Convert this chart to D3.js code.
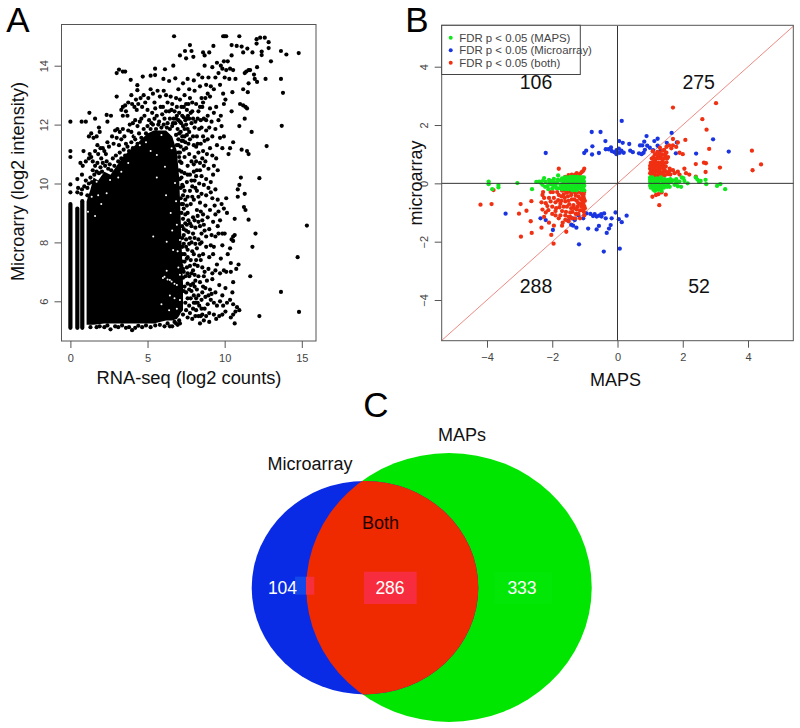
<!DOCTYPE html>
<html><head><meta charset="utf-8">
<script src="https://cdn.jsdelivr.net/npm/d3@7/dist/d3.min.js"></script>
<style>html,body{margin:0;padding:0;background:#fff}svg{display:block}text{font-family:"Liberation Sans",Arial,sans-serif}</style>
</head><body><svg id="c" width="800" height="728"></svg>
<script>
// Panel A: saturated (overplotted) black core, envelope
const aCoreX  =[1.05,1.3,1.5,1.8,2.2,2.6,3,3.4,3.8,4.2,4.6,5,5.4,5.8,6.2,6.6,6.9,7.05,7.15,7.3];
const aCoreTop=[9.4,9.8,10.2,10.1,10.4,10.3,10.6,10.9,11.1,11.3,11.5,11.7,11.8,11.8,11.8,11.6,11.1,10.2,8.8,6.6];
const aCoreLow=[5.2,5.2,5.2,5.22,5.25,5.25,5.25,5.25,5.25,5.25,5.25,5.25,5.25,5.3,5.35,5.35,5.4,5.5,5.6,5.7];
// saturated vertical strips at the lowest count values [x, low, high]
const aStrips=[[0,5.1,9.3],[0.45,5.1,9.15],[0.77,5.1,9.4]];
// small unfilled gaps visible inside the saturated core
const aGaps=[[1.14,10.36],[1.7,10.06],[2.35,9.67],[4.19,11.65],[4.5,11.3],[5.9,11.65],[6.56,11.2],[5.6,10.97],[6.78,10.02],[1.38,9.55],[1.8,9.6],[1.14,9.04],[2.57,10.12],[3.3,10.4],[3.75,10.7],[5.6,10.2],[6.13,10.57],[4.9,11.4],[5.2,11.1],[3.1,10.2],[2,9.3],[1.6,8.9],
[6.24,7.04],[6,6.79],[6.1,6.83],[6.3,6.74],[6.45,6.72],[6.56,6.67],[6.75,6.6],[6.9,6.55],[7.1,6.9],[7,7.15],[6.45,6.2],[6.75,6.1],[7.1,6.04],[6.24,8.02],[5.37,8.2],[6.66,7.74],[7.1,8.08],[6.9,8.6],[6.5,9],[6.85,9.4],[6.2,9.6],[6.95,7.7],[5.9,5.9],[6.4,5.7],[6.9,5.75],[6.6,8.4]];
const aSparse=[[0,12.1],[0,11.1],[0,10.9],[0,9.97],[0,9.7],[.73,12.1],[1,12.1],[1.23,12.4],[1.6,12.2],[2.35,12.33],[2.63,12.3],[2.4,12.1],
[6.72,15],[9.9,15],[10,15],[10.1,15],[10.95,15],[12.07,14.9],[12.3,14.95],[12.6,14.95],[12.85,14.8],[12.85,14.6],[12.07,14.75],[7.75,14.7],[7.85,14.5],[7.43,14.5],[7.1,14.35],[7.97,14.3],[7.5,14.25],[8.6,14.45],[8.7,14.35],[9,14.45],[9.27,14.67],[10.45,14.7],[10.78,14.67],[11.1,14.65],[11.47,14.58],[11.8,14.45],[11.2,14.45],[12.4,14.48],[12.4,14.36],[13.65,14.5],[14,14.38],[14.8,14.43],[13,14.15],[13.65,13.55],[13.78,13.08],[13.7,11.96],[12.72,11.27],[12.25,10.18],[15.33,8.57],[14.73,7.5],[13.65,6.32],[14.82,5.64],[12.25,5.5],[12,8.3],[11.8,7.85],[11.66,6.85],[11.55,8.77]];
const aUpper=[[1.2,11.6],[1.35,11.7],[1.5,11.55],[1.7,11.6],[1.75,11.3],[1.85,11.9],[1.9,11.75],[1.6,11.1],[1.8,11],[1.95,11.2],[2,10.85],[2.2,11.1],[1.25,11],[1.35,10.9],[1.45,10.75],[1.2,10.85],[.85,11.1],[.65,10.7],[.8,10.6],[1,10.75],[.45,10.15],[.75,10.3],[.5,9.85],[.75,9.8],[.9,9.9],[.45,9.7],[.7,9.65],[1,10.1],[2.3,11],
[2.1,11.2],[2.4,11.4],[2.7,11.6],[2.5,11.25],[2.9,11.8],[3.05,11.85],[3.2,11.75],[3.4,11.85],[3.5,11.6],[2.8,11.35],[3,11.55],[3.15,11.3],[3.3,11.5],[3.6,11.35],[3.75,11.8],[3.85,12],[3.95,11.75],[4.05,12.05],[4.2,12.15],[4.35,11.95],[4.5,12.1],[4.1,11.6],[3,12.95],[3,13.75],[3.15,13.87],[3.4,13.8],[3.55,13.8],[3.91,13.52],[4.69,13.63],[5.2,13.66],[5.49,13.9],[6.13,13.88],[6.67,14],[6.03,13.55],[6.4,13.48],[6.8,13.57],[5.49,13.68],[4.34,13.34],[4.34,13.17],
[3.4,12.3],[3.3,12.5],[3.55,12.65],[3.75,12.75],[3.4,12.6],[3.6,12.45],[3.7,12.3],[3.95,13],[4,12.7],[4.15,12.6],[4.25,12.85],[4.3,12.5],[4.4,12.7],[4.55,12.9],[4.65,12.6],[4.75,13],[4.85,12.75],[5,12.5],[5.05,12.9],[5.2,13.2],[5.35,13.05],[5.45,12.75],[5.3,12.4],[5.5,12.55],[5.65,13.15],[5.8,12.95],[5.85,12.6],[5.95,12.35],[6.05,13.15],[6.2,13],[6.3,12.75],[6.4,12.45],[6.5,12.95],[6.6,12.7],[6.7,12.2],[6.85,12.9],[6.9,12.6],[7,13.2],[7.1,12.85],[7.2,12.6],[7.3,13.4],[7.4,13],[7.5,12.7],[7.55,12.2],[7.6,13.55],[7.7,13.2],[7.75,12.9],[7.8,12.4],[7.9,12.75],[8,13.5],[8.05,13.15],[8.15,12.7],[8.25,12.2],[8.3,13.7],[8.4,13.3],[8.5,12.9],
[4.6,12.2],[4.8,12.3],[5.1,12.15],[5.25,12.05],[5.45,12.2],[5.6,12.3],[5.75,12.1],[6,12.6],[6.1,12.2],[6.2,12.45],[6.3,12.05],[6.45,12.2],[6.55,12.5],[6.6,11.95],[6.75,12.45],[6.8,12.05],[6.9,12.3],[6.95,11.85],[7.05,12.4],[7.1,12.1],[7.15,11.75],[7.25,12.3],[7.3,11.95],[7.35,12.6],[7.4,11.6],[7.45,12.15],[7.55,12.5],[7.6,11.85],[7.65,12.7],[7.7,12.2],[7.75,11.5],[7.85,12.05],[7.9,12.45],[7,11.5],[7.15,11.25],[7.3,11.45],[7.5,11.2],[6.9,11.3],[7.05,10.9],[7.2,10.7],[7.4,10.9],[7.6,10.6],[7.7,11],[7.85,10.75],[8,11.3],
[6.65,12.05],[6.85,12.2],[7,12.15],[7.18,12.05],[7.35,12.25],[7.5,12],[7.62,12.3],[7.4,11.85],[7.55,11.65],[7.25,11.6],[7.05,11.7],[6.85,11.65],[7.7,11.75],[7.45,11.4],[7.2,11.45],[7,11.3],[7.65,11.35],[7.35,11.15],[7.1,11.05]];
const aRight=[[8.55,13.6],[8.7,14],[8.8,13.35],[8.9,13.05],[8.95,13.6],[9.05,12.95],[9.1,13.3],[9.2,13.95],[9.3,13.2],[9.4,13.6],[9.5,14.1],[9.6,13.75],[9.7,13.35],[9.75,14],[9.85,13.9],[9.95,14.15],[10,13.6],[10.1,13.85],[10.2,14.15],[10.3,13.55],[10.35,13.9],[10.45,14.35],[10.5,13.1],[10.55,13.85],[10.7,13.55],[9.9,13.05],[9.95,12.7],[10.05,12.85],[10.45,12.45],[11,12.7],[11.2,12.65],[11.35,12.6],[11.45,12.55],[11.2,13.2],[11.5,13.1],[11.55,13.4],[11.65,13.85],[11.3,13.75],[11.4,13.8],[11.55,13.85],[11.9,13.7],[12.1,13.95],[11.95,13.55],[12.1,13.45],[12.65,13.55],[11.3,12.2],[10.95,11.95],[11.75,11.75],[11.1,11.15],[11.45,11.1],[11.55,11],[10.55,11.4],[10.35,11.2],[10.25,11],[11.05,10.2],[10.95,9.95],[10.85,9.8],[10.85,9.55],[11.3,9.65],[11.25,9.2],[11.35,9.1],[10.65,8.8],[10.55,8.2],[10.45,8.1],[10.65,8.25],[10.9,7.25],[10.75,7.1],[10.4,7.3],[10.55,6.65],[10.4,7],[10.2,7.6],[10.35,7.8],[10.55,8.05],[10,8.3],[9.85,7.9],[9.6,8.3],[9.4,8.2],[9.3,7.85],[9.5,7.25],[9.25,7.6],[9.1,7.9],
[8.55,12.6],[8.65,12.2],[8.75,12.9],[8.8,11.8],[8.9,12.3],[9,11.9],[9.05,12.55],[9.15,12.1],[9.2,11.6],[9.3,12.4],[9.4,11.85],[9.45,12.6],[9.5,11.3],[9.6,12.15],[9.7,11.55],[9.75,12.3],[9.8,11.95],[9.85,11.2],[9.95,11.6],[8.1,12.1],[8.2,11.6],[8.35,11.85],[8.45,11.35],[8.5,11.9],[8.6,11.1],[8.7,11.45],[8.85,11],[8.9,11.5],[9.05,11.2],[9.2,10.95],[9.3,10.6],[9.45,10.85],[9.55,10.45],[8.05,10.9],[8.2,10.45],[8.3,11.05],[8.4,10.7],[8.5,10.25],[8.65,10.6],[8.8,10.15],[8.95,10.5],[9.1,10.05],[9.25,10.3],[9.4,9.8],[9.55,9.45],[9.6,9.05],[9.8,9.3],[9.95,9.15],[10.1,9.5],[10.15,9],[9.35,9.25],[9.2,9.5],[9.1,9.7],[8.95,9.85],[8.8,9.6],[8.65,9.95],[8.5,9.65],[8.35,10],[8.2,9.75],[8.05,10.1],[7.9,9.9],[7.75,10.3],[7.55,10.05],[7.4,9.75],[7.6,9.55],[7.8,9.3],[8,9.45],[8.2,9.1],[8.4,9.35],[8.6,8.95],[8.75,9.25],[8.9,8.85],[9.05,9.1],[9.25,8.7],[9.4,8.95],[9.55,8.55],[9.7,8.75],[9.85,8.3],[7.3,9.3],[7.45,8.95],[7.6,9],[7.75,8.65],[7.95,8.85],[8.1,8.5],[8.3,8.7],[8.5,8.3],[8.65,8.6],[8.8,8.2],[9,8.45],[9.15,8.25],[7.35,8.45],[7.5,8.1],[7.65,8.35],[7.85,8],[8.05,8.15],[8.2,7.8],[8.4,7.95],[8.6,7.6],[8.8,7.85],[9,7.5],[7.25,7.85],[7.4,7.6],[7.6,7.75],[7.8,7.4],[8,7.6],[8.25,7.2],[8.45,7.4],[8.7,7],[8.95,7.1],[9.2,6.95],[9.4,7.05],[9.7,6.95],[9.75,7.45],[9.95,7.05],[10.1,7],[7.2,7.2],[7.35,7],[7.55,7.15],[7.7,6.85],[7.95,7.05],[8.1,6.7],[8.3,6.85],[8.6,6.5],[8.85,6.7],[9.05,6.4],[9.2,6.75],[9.4,6.3],[9.65,6.55],[9.85,6.2],[10.05,6.45],[10.5,6.3],[10.35,6.05],[10.55,5.9],[7.4,6.5],[7.6,6.6],[7.85,6.35],[8.05,6.5],[8.3,6.2],[8.5,6.05],[8.75,6.15],[8.9,5.9],[9.1,6.05],[9.3,5.95],[9.5,5.85],[9.7,6],[9.9,5.85],[10.15,5.95],[10.05,5.65],[10.4,5.45],[10.55,5.55],[10.65,5.25],[10.8,5.8],[10.95,5.7],[10.7,5.65],[8,5.95],[8.15,5.7],[8.35,5.85],[8.55,5.55],[8.8,5.5],[9,5.6],[9.3,5.55],[9.45,5.4],[9.65,5.5],[9.85,5.55],[8.4,5.25],[9,5.3],[7.1,5.25],[7.9,5.4],[7.6,5.45],[6.6,5.15],[6.1,5.15],[5.2,5.12],[4.2,5.1],[4,5.02],[2.6,5.05],[3.6,5.1],[1.7,5.12],[7.3,9.9],[7.15,9.5],[7.4,10.35],[7.2,10.2]];
// dots that roughen the edge of the saturated core
const aEdge=[[1.1,9.6],[1.1,9.85],[1.2,10],[1.3,10.2],[1.4,10.05],[1.45,10.45],[1.55,10.3],[1.6,10.6],[1.7,10.4],[1.75,10.7],[1.85,10.35],[1.95,10.55],[2.05,10.4],[2.1,10.7],[2.25,10.6],[2.35,10.75],[2.45,10.5],[2.55,10.65],[2.65,10.45],[2.75,10.85],[2.85,10.6],[2.95,10.95],[3.1,10.75],[3.2,11.05],[3.3,10.85],[3.45,11.15],[3.55,10.95],[3.7,11.25],[3.8,11.1],[3.95,11.4],[4.05,11.2],[4.2,11.5],[4.35,11.35],[4.45,11.7],[4.6,11.55],[4.75,11.85],[4.9,11.7],[5,11.95],[5.2,11.85],[5.35,12],[5.55,11.85],[5.7,12],[5.9,11.9],[6.05,12],[6.25,11.9],[6.45,11.85],
[7,11.05],[7.1,10.75],[7.05,10.45],[7.2,10.4],[7.1,10.15],[7.25,9.95],[7.15,9.85],[7.3,9.6],[7.2,9.3],[7.35,9.15],[7.2,9],[7.3,8.8],[7.45,8.65],[7.25,8.55],[7.35,8.25],[7.5,8.4],[7.25,8.15],[7.35,7.95],[7.5,7.85],[7.25,7.6],[7.4,7.35],[7.55,7.45],[7.25,7.35],[7.3,7.1],[7.45,6.85],[7.6,6.95],[7.3,6.8],[7.5,6.3],[7.7,6.4],[7.35,6.35],[7.6,6.1],[7.8,6.1],[7.45,5.95],[7.7,5.85],[7.95,5.75],[8.1,5.95],[7.5,5.7],[7.75,5.6],[7.3,5.55],[7.05,5.35],[6.85,5.25],
[7.75,9.75],[7.55,9.25],[7.9,9.55],[7.65,8.75],[7.85,8.55],[7.55,8.6],[7.75,8.15],[7.95,8.3],[7.7,7.95],[7.6,7.5],[7.9,7.7],[7.75,7.2],[8.05,7.25],[7.85,6.95],[8.05,6.9],[7.95,6.6],[7.8,6.55],[8.2,6.4],[8.15,6.1],[8,6.2],[8.25,5.95],[8.1,5.5],[8.3,5.5],[8.5,5.75],[8.7,5.75],[7.45,9.45],[7.6,10.3],[7.85,10.1],[8,10.4],[8.1,9.85],[8.15,10.25],[8.3,9.55],[8.45,9.05],[8.25,8.9],[8.05,8.75],[8.4,8.55],[8.55,8.75],[8.7,8.4],[8.3,8.1],[8.5,8],[8.1,7.95],[8.35,7.55],[8.15,7.4],[8.55,7.15],[8.4,6.65],[8.65,6.85],[8.55,6.3],[8.75,6.45],[8.95,6.2],[9.15,6.25],[8.45,5.5],[8.65,5.35],
[1.3,5.12],[1.9,5.15],[2.2,5.12],[2.4,5.18],[2.9,5.15],[3.1,5.12],[3.35,5.18],[3.8,5.12],[4.4,5.17],[4.65,5.12],[4.9,5.18],[5.5,5.18],[5.8,5.2],[6.3,5.25],[6.45,5.15],[6.75,5.3],[6.95,5.2],
[7.95,12.2],[8.05,11.9],[7.95,11.6],[8.15,11.25],[8.3,12.45],[8.45,12.15],[8.6,12.75],[8.4,12.6],[8.6,11.6],[8.8,12.15],[8.25,11.35],[8.55,10.85],[8.75,10.75],[8.4,10.45],[8,10.65],[8.15,10.75]];
const aTicksX=[0,5,10,15], aTicksY=[6,8,10,12,14];

// Panel B: values read per point
const bTicks=[-4,-2,0,2,4];
const bGreen=[[-3.95,.06],[-3.95,-.03],[-3.84,-.2],[-3.65,-.06],[-3.65,-.14],[-3.07,.01],[-2.62,-.2],[-2.49,.05],[-2.4,.06],[-2.25,.18],[-2.3,-.05],[-2.2,.05],[-2.15,-.1],[-2.1,.12],[-2.05,-.03],[-2,.08],[-2,-.18],[-1.95,.15],[-1.9,-.08],[-1.85,.02],[-1.82,.27],[-1.8,-.17],[-1.75,.1],[-1.75,-.05],[-1.7,.17],[-1.7,-.2],[-1.65,.02],[-1.6,.12],[-1.6,-.12],[-1.55,.2],[-1.55,-.03],[-1.5,-.2],[-1.5,.08],[-1.45,.22],[-1.45,-.1],[-1.4,.03],[-1.4,-.22],[-1.35,.14],[-1.35,-.05],[-1.3,.22],[-1.3,-.15],[-1.25,.05],[-1.25,-.24],[-1.2,.15],[-1.2,-.05],[-1.15,.2],[-1.15,-.17],[-1.1,.05],[-1.1,-.08],[-1.1,-.23],[-1.05,.12],[-1.05,-.02],[-1.05,-.15],[-1.03,.2],[-1.02,-.24],[-1.58,-.2],[-1.38,-.24],[-1.62,.2],
[-2.35,.02],[-2.28,.1],[-2.22,-.12],[-2.12,-.2],[-2.08,.02],[-1.97,-.08],[-1.92,.03],[-1.88,-.16],[-1.83,.12],[-1.72,-.12],[-1.68,.08],[-1.66,-.06],[-1.63,-.18],[-1.57,.1],[-1.52,.15],[-1.52,-.1],[-1.47,.02],[-1.43,.12],[-1.42,-.15],[-1.37,.22],[-1.33,-.22],[-1.32,.06],[-1.27,.14],[-1.27,-.08],[-1.23,-.16],[-1.22,.22],[-1.17,.08],[-1.17,-.1],[-1.13,-.02],[-1.12,.14],[-1.08,.2],[-1.07,-.18],[-1.03,.06],[-1.02,-.08],
[1,.2],[1.05,.08],[1.05,-.05],[1.1,.14],[1.1,-.15],[1.15,.02],[1.2,.17],[1.2,-.1],[1.25,-.22],[1.25,.07],[1.3,.16],[1.3,-.04],[1.35,.1],[1.35,-.15],[1.4,.02],[1.45,.14],[1.45,-.1],[1.5,.05],[1.55,-.05],[1.55,.12],[1.6,-.12],[1.65,.05],[1.7,.1],[1.75,-.05],[1.8,.03],[1.8,.14],[1.85,-.1],[1.9,.06],[1.95,-.12],[1.97,.2],[2.02,.18],[2.05,.08],[2.15,0],[2.4,.2],[2.45,.13],[2.5,.05],[2.55,.08],[2.72,-.03],[3.05,-.09],[3.15,-.03],[3.3,-.2],[2.7,.12],[1.1,-.22],[1,-.08],
[1,.05],[1.02,-.15],[1.07,.2],[1.12,-.05],[1.15,.1],[1.17,-.17],[1.22,.03],[1.27,-.1],[1.33,.2],[1.37,-.03],[1.42,.1],[1.42,-.15],[1.47,.03],[1.52,-.12],[1.58,.03],[1.62,.14],[1.15,-.26],[1.35,-.26],[1.05,.15],[1,.13]];
const bBlue=[[.13,2.14],[-.79,1.76],[-.52,1.76],[-.37,1.45],[-.77,1.27],[.05,1.45],[.16,1.39],[.36,1.35],[-2.2,1.04],[-1.02,1.04],[-.96,1.12],[-.78,.99],[-.57,1.04],[-.36,1.17],[-.28,1.17],[-.2,1.23],[-.18,1.11],[-.1,1.07],[-.03,1.14],[.04,1.19],[-.03,1],[.07,1.05],[.12,1.12],[.19,1.05],[.39,1.12],[.47,1.07],[.69,1.3],[.76,1.3],[.89,1.62],[.82,1.43],[.66,1.03],[.74,1],[.8,1.05],[.84,1.15],[.91,1.29],[.99,1.22],[1.09,1.14],[1.13,1.45],[1.23,1.53],[1.23,1.29],[1.32,1.12],[1.51,1.39],[1.66,1.73],[1.82,1.4],[1.79,1.03],[2.41,1.02],[2.93,1.51],[3.41,1.09],
[-3.43,-1.04],[-2.36,-1.2],[-2.2,-1.26],[-1.98,-1.6],[-1.51,-1.28],[-1.38,-1.2],[-1.31,-1.26],[-1.36,-1.45],[-1.26,-1.52],[-1.18,-2.09],[-1.05,-1.2],[-.95,-1.03],[-.83,-1.05],[-.75,-1.12],[-.64,-1.14],[-.57,-1.11],[-.49,-1.14],[-.41,-1.03],[-.36,-1.2],[-.18,-1.2],[-.06,-1],[.04,-1.23],[.13,-1.33],[.28,-1.11],[-.9,-1.55],[-.64,-1.58],[-.57,-1.46],[-.21,-1.43],[-.26,-1.55],[-.33,-1.7],[-.42,-2.34],[.07,-2.24],[-1.42,-1.42],[-1.2,-1.1],[-.7,-1.06],[-.5,-1.06]];
const bRed=[[1.7,2.6],[3.02,2.75],[2.6,2.2],[2.73,1.84],[1.7,1.52],[2.08,1.49],[2.81,1.18],[4.12,1.12],[4.4,.65],[4.14,.45],[3.14,.54],[2.65,.71],[2.71,.69],[2.4,.66],[2.7,.39],[2.4,.23],[1.28,-.75],[1.07,-.46],[1.25,-.37],[1.35,-.31],[1.48,-.39],[1.18,-.4],[1.7,1.3],[1.8,1.25],[1.85,1.4],[1.65,1.2],[1.9,1.05],[2,1],[1.6,.5],[1.7,.45],[1.75,.35],[1.85,.4],[2.05,.5],[2.1,.35],[2.2,.3],[1.9,.3],[1.55,.9],[1.5,1.25],[1.48,1.05],[1.43,.85],[1.38,1.12],[1.32,.95],[1.28,1.05],[1.2,.85],[1.22,1.08],[1.15,1],[1.08,1.1],[1.12,.75],[1.05,.85],[1.02,.7],[1.07,.6],[1.15,.55],[1.25,.7],[1.33,.7],[1.4,.6],[1.45,.45],[1.5,.72],[1.3,.5],[1.2,.42],[1.1,.35],[1,.5],[1,.35],[1.05,.27],[1.15,.28],[1.25,.3],[1.35,.3],[1.45,.28],[1.55,.32],[1.62,.3],[1.2,.62],[1.35,.85],[1.1,.48],[1.03,.42],[1.28,.42],[1.4,.38],
[1,.6],[1.04,.52],[1.08,.72],[1.1,.9],[1.12,.62],[1.16,.82],[1.18,.48],[1.18,.7],[1.22,.95],[1.24,.55],[1.27,.85],[1.3,.62],[1.32,.38],[1.35,.55],[1.37,.98],[1.38,.75],[1.42,.48],[1.42,.68],[1.46,.95],[1.48,.58],[1.52,.38],[1.52,.85],[1.5,1.05],[1.43,1.15],[1.3,1.22],[1.58,1.3],[1.6,.42],[1.13,.38],[1.24,.38],[1.35,.22],[1.2,.22],[1.07,.22],
[-4.2,-.73],[-3.86,-.71],[-3.8,-.23],[-2.97,-.71],[-2.64,-.61],[-3.02,-1.04],[-2.79,-.94],[-2.66,-1.3],[-2.96,-1.83],[-2.63,-1.7],[-2.33,-1.52],[-2.03,-1.77],[-1.96,-2.07],[-1.57,-1.66],[-1.8,.5],[-2.33,-.65],[-2.3,-.4],[-2.3,-.9],[-2.2,-1],[-2.25,-1.15],[-2.15,-.78],[-2.1,-1.35],[-2.1,-.5],[-2,-1.05],[-1.98,-.3],[-1.95,-1.45],[-1.9,-.65],[-1.88,-.85],[-1.8,-.4],[-1.8,-1.2],[-1.75,-.7],[-1.7,-.25],[-1.7,-.95],[-1.68,-1.35],[-1.62,-.5],[-1.6,-1.1],[-1.55,-.8],[-1.55,-.32],[-1.5,-1.3],[-1.5,-.6],[-1.45,-1],[-1.42,-.4],[-1.4,-1.2],[-1.35,-.75],[-1.32,-.55],[-1.3,-.32],[-1.28,-1.05],[-1.25,-.9],[-1.2,-.45],[-1.2,-.68],[-1.15,-1.2],[-1.12,-.32],[-1.1,-.55],[-1.1,-.8],[-1.05,-.45],[-1.05,-.7],[-1.03,-.98],[-1.02,-.3],[-1,-.6],[-1,-.85],[-1.02,-1.1],[-1.6,-.62],[-1.72,-.45],[-1.85,-.3],[-2.05,-.62],[-1.42,-.85],[-1.3,-1.2],[-1.75,-1.1],[-1.9,-1.1],[-2,-.8],[-1.58,-.98],[-1.48,-.28],[-1.15,-.93],
[-2.28,-.3],[-2.25,-.5],[-2.2,-.68],[-2.12,-.92],[-2.05,-.3],[-1.95,-.5],[-1.9,-.95],[-1.82,-.58],[-1.78,-.82],[-1.72,-.6],[-1.65,-.38],[-1.65,-.8],[-1.6,-1.25],[-1.52,-.45],[-1.48,-.72],[-1.45,-1.15],[-1.4,-.55],[-1.38,-.98],[-1.32,-.85],[-1.28,-.42],[-1.25,-.6],[-1.22,-.8],[-1.2,-1.05],[-1.15,-.52],[-1.13,-.72],[-1.08,-.38],[-1.08,-.65],[-1.07,-.92],[-1.03,-.52],[-1.02,-.78],[-1.58,-.27],[-1.4,-.3],[-1.22,-.3],[-1.04,-.38],[-1.7,-1.45],[-1.5,-1.15],
[-1.5,.28],[-1.4,.3],[-1.3,.3],[-1.25,.35],[-1.15,.32],[-1.1,.38],[-1.05,.43],[-1.02,.5],[-1.2,.25],[-1.6,.22]];
// Panel C: set counts
const vennLabels=["Microarray","MAPs","Both"];
const vennCounts=[104,286,333];

const svg=d3.select("#c");
const black="#000", tick="#444";
function frame(g,x,y,xt,yt,x0,y0,x1,y1,xf){
  g.append("rect").attr("x",x0).attr("y",y1).attr("width",x1-x0).attr("height",y0-y1).attr("fill","none").attr("stroke","#555").attr("stroke-width",1);
  const ax=g.append("g").attr("transform",`translate(0,${y0})`).call(d3.axisBottom(x).tickValues(xt).tickSize(7).tickPadding(6).tickFormat(xf));
  const ay=g.append("g").attr("transform",`translate(${x0},0)`).call(d3.axisLeft(y).tickValues(yt).tickSize(7).tickPadding(0).tickFormat(xf));
  [ax,ay].forEach(a=>{a.select(".domain").remove();a.selectAll("line").attr("stroke","#555");a.selectAll("text").attr("fill",tick).style("font-size","11px").style("font-family",'"Liberation Sans",sans-serif');});
  ay.selectAll("text").attr("dy",0).attr("x",0).attr("y",0).attr("text-anchor","middle")
    .attr("transform",function(){return "translate(-14,0) rotate(-90)";});
}
function label(t,x,y,size,o={}){
  const e=svg.append("text").attr("x",x).attr("y",y).attr("font-size",size).attr("fill",o.fill||"#111").attr("text-anchor",o.anchor||"middle").text(t);
  if(o.rot)e.attr("transform",`rotate(${o.rot} ${x} ${y})`);
  return e;
}
// ---------- A
const xA=d3.scaleLinear().domain([0,15]).range([70.4,301.8]);
const yA=d3.scaleLinear().domain([6,14]).range([301.3,65.7]);
const gA=svg.append("g");
gA.selectAll("line.s").data(aStrips).join("line").attr("x1",d=>xA(d[0])).attr("x2",d=>xA(d[0])).attr("y1",d=>yA(d[1])).attr("y2",d=>yA(d[2])).attr("stroke",black).attr("stroke-width",4.2).attr("stroke-linecap","round");
const areaA=d3.area().x(d=>xA(d.x)).y0(d=>yA(d.l)).y1(d=>yA(d.t));
gA.append("path").datum(aCoreX.map((x,i)=>({x,t:aCoreTop[i],l:aCoreLow[i]}))).attr("fill",black).attr("d",areaA);
gA.append("g").selectAll("circle").data(aSparse.concat(aUpper,aRight,aEdge)).join("circle").attr("cx",d=>xA(d[0])).attr("cy",d=>yA(d[1])).attr("r",2.1).attr("fill",black);
gA.append("g").selectAll("circle").data(aGaps).join("circle").attr("cx",d=>xA(d[0])).attr("cy",d=>yA(d[1])).attr("r",1).attr("fill","#fff");
frame(gA,xA,yA,aTicksX,aTicksY,61.5,341,316,24.5,d3.format("d"));
label("Microarry (log2 intensity)",24,181.5,18.2,{rot:-90});
label("RNA-seq (log2 counts)",189,384,18.3);
label("A",18,32,35,{fill:"#000"});
// ---------- B
const xB=d3.scaleLinear().domain([-4,4]).range([487,748]);
const yB=d3.scaleLinear().domain([-4,4]).range([300,66.7]);
const gB=svg.append("g");
const lim=5.4;
gB.append("line").attr("x1",xB(-lim)).attr("y1",yB(-lim)).attr("x2",xB(lim)).attr("y2",yB(lim)).attr("stroke","#ee8a84").attr("stroke-width",1);
const dots=(d,c)=>gB.append("g").selectAll("circle").data(d).join("circle").attr("cx",p=>xB(p[0])).attr("cy",p=>yB(p[1])).attr("r",2.15).attr("fill",c);
const cG="#12e61e", cB="#1a35e0", cR="#f03012";
dots(bBlue,cB); dots(bRed,cR); dots(bGreen,cG);
gB.append("line").attr("x1",xB(-lim)).attr("x2",xB(lim)).attr("y1",yB(0)).attr("y2",yB(0)).attr("stroke","#333");
gB.append("line").attr("x1",xB(0)).attr("x2",xB(0)).attr("y1",yB(-lim)).attr("y2",yB(lim)).attr("stroke","#333");
frame(gB,xB,yB,bTicks,bTicks,441.7,340.7,793.3,25.3,d3.format("d"));
gB.append("rect").attr("x",441.7).attr("y",25.3).attr("width",138.6).attr("height",49.2).attr("fill","#fff").attr("stroke","#444");
const legendRows=[["FDR p < 0.05 (MAPS)",cG],["FDR p < 0.05 (Microarray)",cB],["FDR p < 0.05 (both)",cR]];
legendRows.forEach((r,i)=>{
  const ly=37.7+i*12.5;
  gB.append("circle").attr("cx",450.7).attr("cy",ly).attr("r",2).attr("fill",r[1]);
  gB.append("text").attr("x",459.3).attr("y",ly+3.8).attr("font-size",11.4).attr("fill","#444").text(r[0]);
});
[["106",536,88.5],["275",698.7,88.5],["288",536,293],["52",699,293]].forEach(a=>label(a[0],a[1],a[2],19.5));
label("microarray",422,183,18,{rot:-90});
label("MAPS",615.5,386,18);
label("B",417,32,35,{fill:"#000"});
// ---------- C
const rx=d3.scaleSqrt().domain([0,390]).range([0,113.3]);
const ry=d3.scaleSqrt().domain([0,390]).range([0,106.7]);
const setA=vennCounts[0]+vennCounts[1], setB=vennCounts[1]+vennCounts[2];
const cA=[365,587.7], cM=[449,587.5];
const gC=svg.append("g");
const defs=svg.append("defs");
defs.append("clipPath").attr("id","clipM").append("ellipse").attr("cx",cM[0]).attr("cy",cM[1]).attr("rx",rx(setB)).attr("ry",ry(setB));
gC.append("ellipse").attr("cx",cM[0]).attr("cy",cM[1]).attr("rx",rx(setB)).attr("ry",ry(setB)).attr("fill","#00e600");
gC.append("ellipse").attr("cx",cA[0]).attr("cy",cA[1]).attr("rx",rx(setA)).attr("ry",ry(setA)).attr("fill","#0a2be6");
gC.append("ellipse").attr("cx",cA[0]).attr("cy",cA[1]).attr("rx",rx(setA)).attr("ry",ry(setA)).attr("fill","#f02a00").attr("clip-path","url(#clipM)");
[[295,576.7,11,18,"#1248ea"],[306,576.7,8.3,18,"#f5303c"],[364,571.7,52.7,32.3,"#f72c3e"],[494,571.7,58,32.3,"#03e706"]].forEach(r=>gC.append("rect").attr("x",r[0]).attr("y",r[1]).attr("width",r[2]).attr("height",r[3]).attr("fill",r[4]));
label(vennLabels[0],310,470,18);
label(vennLabels[1],462,441,18);
label(vennLabels[2],380.5,529,18,{fill:"#200"});
[[vennCounts[0],282.5],[vennCounts[1],390],[vennCounts[2],522]].forEach(a=>label(a[0],a[1],594,17.5,{fill:"#fff"}));
label("C",376,417,35,{fill:"#000"});
</script></body></html>
